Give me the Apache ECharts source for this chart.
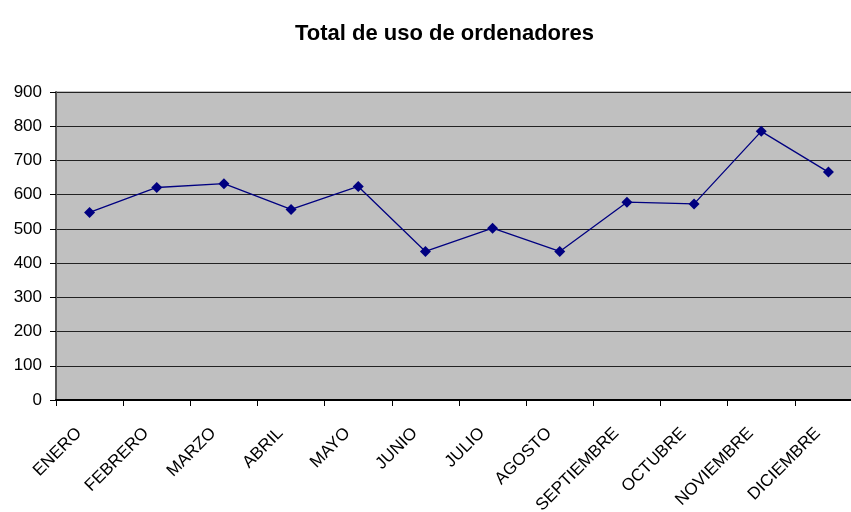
<!DOCTYPE html>
<html lang="es">
<head>
    <meta charset="UTF-8">
    <title>Total de uso de ordenadores</title>
    <script src="https://cdn.jsdelivr.net/npm/echarts@6/dist/echarts.min.js"></script>
    <style>
        html, body { margin: 0; padding: 0; background: #fff; }
        #chart { width: 851px; height: 512px; }
    </style>
</head>
<body>
<div id="chart"></div>
<script>
    // datos
    const meses = ['ENERO', 'FEBRERO', 'MARZO', 'ABRIL', 'MAYO', 'JUNIO',
        'JULIO', 'AGOSTO', 'SEPTIEMBRE', 'OCTUBRE', 'NOVIEMBRE', 'DICIEMBRE'];
    const uso = [548, 621, 632, 557, 624, 434, 502, 434, 578, 573, 785, 666];

    let myChart = echarts.init(document.getElementById('chart'));
    let option = {
        animation: false,
        title: {
            text: 'Total de uso de ordenadores',
            left: 290,
            top: 18,
            textStyle: {
                fontFamily: 'Liberation Sans',
                fontSize: 22,
                fontWeight: 'bold',
                color: '#000'
            }
        },
        // el area del grafico sigue un poco mas alla del borde derecho
        grid: {
            left: 56,
            width: 806,
            top: 92,
            bottom: 112,
            outerBoundsMode: 'none',
            show: true,
            backgroundColor: '#c0c0c0',
            borderColor: '#808080',
            borderWidth: 1
        },
        xAxis: {
            type: 'category',
            data: meses,
            boundaryGap: true,
            axisLine: { lineStyle: { color: '#000', width: 2 } },
            axisTick: { show: true, length: 6, lineStyle: { color: '#000' } },
            axisLabel: {
                rotate: 45,
                margin: 20,
                padding: [0, 15, 0, 0],
                fontFamily: 'Liberation Sans',
                fontSize: 17,
                color: '#000'
            }
        },
        yAxis: {
            type: 'value',
            min: 0,
            max: 900,
            interval: 100,
            axisLine: { show: true, lineStyle: { color: '#555', width: 2 } },
            axisTick: { show: true, length: 6, lineStyle: { color: '#000' } },
            axisLabel: {
                margin: 14,
                fontFamily: 'Liberation Sans',
                fontSize: 17,
                color: '#000'
            },
            splitLine: { lineStyle: { color: '#222', width: 1 } }
        },
        series: [
            {
                name: 'Uso',
                type: 'line',
                data: uso,
                symbol: 'diamond',
                symbolSize: 11,
                lineStyle: { color: '#000080', width: 1.3 },
                itemStyle: { color: '#000080' }
            }
        ]
    };
    myChart.setOption(option);
</script>
</body>
</html>
